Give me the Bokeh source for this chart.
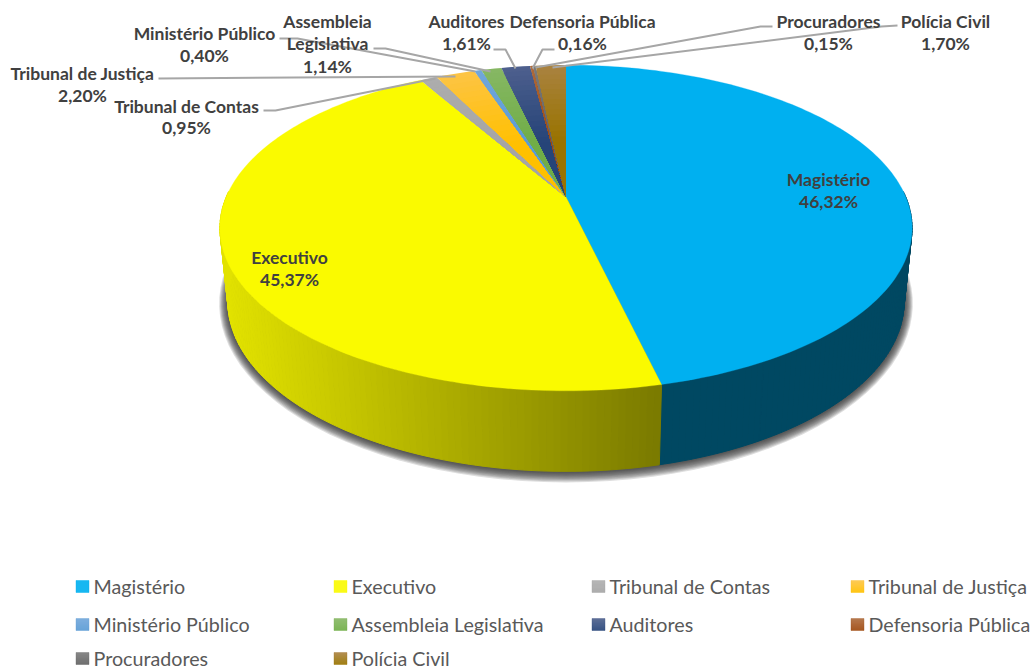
import math
from bokeh.plotting import figure
from bokeh.models import Range1d
from bokeh.core.properties import value
from bokeh.embed import file_html
from bokeh.resources import INLINE

categories = ["Magistério", "Executivo", "Tribunal de Contas", "Tribunal de Justiça",
              "Ministério Público", "Assembleia Legislativa", "Auditores",
              "Defensoria Pública", "Procuradores", "Polícia Civil"]
shares = [46.32, 45.37, 0.95, 2.20, 0.40, 1.14, 1.61, 0.16, 0.15, 1.70]
base_colors = ["#00B0F0", "#FAFA00", "#A5A5A5", "#FFC000", "#5B9BD5",
               "#70AD47", "#264478", "#9E480E", "#636363", "#997300"]
light_colors = ["#00B0F0", "#FAFA00", "#ADADAD", "#FDC443", "#71A6DA",
                "#86B763", "#4D5F8D", "#AD6A3B", "#7A7A7A", "#A9823F"]

FONT = value("Lato")
CX, Y0, A, B, K = 565.5, 196.5, 339.8, 157.0, 0.19


def hex2rgb(h):
    return tuple(int(h[i:i + 2], 16) for i in (1, 3, 5))


def mix(c1, c2, t):
    a, b = hex2rgb(c1), hex2rgb(c2)
    return "#%02x%02x%02x" % tuple(round(a[i] + (b[i] - a[i]) * t) for i in range(3))


def top_pt(theta, r=1.0):
    u, v = r * math.sin(theta), r * math.cos(theta)
    w = 1 + K * v
    return CX + A * u / w, Y0 - B * v / w


def low_pt(theta, grow=0.0, dy=0.0):
    u, v = math.sin(theta), math.cos(theta)
    w = 1 + K * v
    return CX + (0.977 * A + grow) * u / w, 268.7 + dy - (1.043 * B + grow) * v / w


p = figure(width=1031, height=670, x_range=Range1d(0, 1031), y_range=Range1d(670, 0),
           x_axis_type=None, y_axis_type=None, toolbar_location=None,
           output_backend="svg", min_border=0, outline_line_color=None,
           background_fill_color="white", border_fill_color="white")
p.grid.visible = False

# soft shadow beneath the pie's wall
thetas = [math.radians(d) for d in range(0, 361, 3)]
for g in range(9, 0, -1):
    pts = [low_pt(t, grow=g * 0.95, dy=0.5) for t in thetas]
    p.patch([q[0] for q in pts], [q[1] for q in pts], fill_color="#303030",
            fill_alpha=0.16, line_color=None)

# wall: thin strips shaded along the horizontal
edges = []
acc = 0.0
for s in shares:
    edges.append((acc, acc + s))
    acc += s
boundary = math.radians(edges[0][1] * 3.6)
deg = 88.0
xs, ys, cols = [], [], []
while deg < 272.0:
    a0, a1 = math.radians(deg), math.radians(min(deg + 1.0, 272.0))
    if a0 < boundary < a1:
        a1 = boundary
    t0, t1, l1, l0 = top_pt(a0), top_pt(a1), low_pt(a1), low_pt(a0)
    mid = (a0 + a1) / 2
    if mid < boundary:
        c = "#004862"
    else:
        x = top_pt(mid)[0]
        f = min(1, max(0, (x - 225) / (660 - 225)))
        lvl = 226 + (122 - 226) * f
        c = "#%02x%02x00" % (round(lvl), round(lvl))
    xs.append([t0[0], t1[0], l1[0], l0[0]])
    ys.append([t0[1], t1[1], l1[1], l0[1]])
    cols.append(c)
    deg = math.degrees(a1)
p.patches(xs, ys, fill_color=cols, line_color=cols, line_width=1.0)

# top face: nested wedges, outermost first, carry the small slices' gradient
for (start, end), base, light in zip(edges, base_colors, light_colors):
    a0, a1 = math.radians(start * 3.6), math.radians(end * 3.6)
    n_arc = max(3, int((end - start) * 3))
    arcs = [a0 + (a1 - a0) * i / n_arc for i in range(n_arc + 1)]
    if base == light:
        pts = [top_pt(0, 0)] + [top_pt(t) for t in arcs]
        p.patch([q[0] for q in pts], [q[1] for q in pts], fill_color=base,
                line_color=base, line_width=0.3)
    else:
        xs, ys, cols = [], [], []
        for i in range(24, 8, -1):
            r = i / 24
            pts = [top_pt(0, 0)] + [top_pt(t, r) for t in arcs]
            xs.append([q[0] for q in pts])
            ys.append([q[1] for q in pts])
            cols.append(mix(base, light, max(0.0, (r - 0.4) / 0.6)))
        p.patches(xs, ys, fill_color=cols, line_color=None)

# leader lines
leaders = {
    "Tribunal de Contas": ([263, 275, 435], [110, 110, 78]),
    "Tribunal de Justiça": ([158, 455], [78, 76]),
    "Ministério Público": ([279, 297, 475], [38, 38, 71]),
    "Assembleia Legislativa": ([373, 385, 490], [48, 48, 71]),
    "Auditores": ([493, 505, 515], [49, 49, 68]),
    "Defensoria Pública": ([554, 542, 532], [49, 49, 68]),
    "Procuradores": ([772, 760, 535], [26, 26, 67]),
    "Polícia Civil": ([897, 881, 552], [25, 26, 67]),
}
p.multi_line([v[0] for v in leaders.values()], [v[1] for v in leaders.values()],
             line_color="#A6A6A6", line_width=2)

# data labels
label_pos = {
    "Magistério": (828, [179, 201]),
    "Executivo": (289, [257, 279]),
    "Tribunal de Contas": (186, [106, 127]),
    "Tribunal de Justiça": (82, [73, 95]),
    "Ministério Público": (204, [33, 55]),
    "Assembleia Legislativa": (327, [21, 43, 66]),
    "Auditores": (466, [21, 43]),
    "Defensoria Pública": (582, [21, 43]),
    "Procuradores": (828, [21, 43]),
    "Polícia Civil": (945, [21, 43]),
}
lx, ly, lt = [], [], []
for name, s in zip(categories, shares):
    x, rows = label_pos[name]
    parts = ["Assembleia", "Legislativa"] if name == "Assembleia Legislativa" else [name]
    parts = parts + [f"{s:.2f}".replace(".", ",") + "%"]
    for yy, tx in zip(rows, parts):
        lx.append(x)
        ly.append(yy)
        lt.append(tx)
p.text(lx, ly, text=lt, text_font=FONT, text_font_style="bold", text_font_size="17.5px",
       text_color="#404040", text_align="center", text_baseline="middle")

# legend
col_x = [76, 334, 592, 851]
row_y = [586, 624, 658]
for i, (name, base, light) in enumerate(zip(categories, base_colors, light_colors)):
    mx, my = col_x[i % 4], row_y[i // 4]
    xs, ys, cols = [], [], []
    for j in range(12):
        xs.append([mx - 0.5, mx + 12.5, mx + 12.5, mx - 0.5])
        ys.append([my - 6 + j, my - 6 + j, my - 5 + j, my - 5 + j])
        cols.append(mix(light, base, j / 11))
    p.patches(xs, ys, fill_color=cols, line_color=cols, line_width=0.4)
    p.text([mx + 17], [my], text=[name], text_font=FONT, text_font_size="19.7px",
           text_color="#595959", text_align="left", text_baseline="middle")

open("out.html", "w").write(file_html(p, INLINE))
